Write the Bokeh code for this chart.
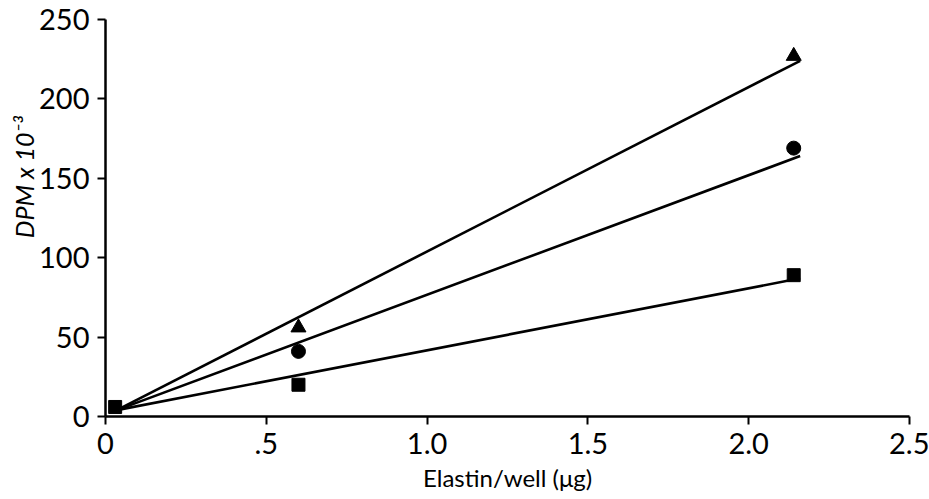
from bokeh.plotting import figure
from bokeh.models import Range1d, FixedTicker
from bokeh.embed import file_html
from bokeh.resources import INLINE

# Data
sq_x = [0.03, 0.6, 2.14]
sq_y = [6, 20, 89]
circ_x = [0.6, 2.14]
circ_y = [41, 169]
tri_x = [0.6, 2.14]
tri_y = [56, 227]

fit_x = [0.035, 2.16]
tri_fit = [4, 224]
circ_fit = [4, 164]
sq_fit = [4, 87]

x_ticks = [0, 0.5, 1.0, 1.5, 2.0, 2.5]
x_tick_labels = ["0", ".5", "1.0", "1.5", "2.0", "2.5"]
y_ticks = [0, 50, 100, 150, 200, 250]

FONT = "Lato"

p = figure(width=929, height=499, output_backend="svg", toolbar_location=None,
           x_range=Range1d(0, 2.5), y_range=Range1d(0, 250),
           min_border_left=105, min_border_right=20, min_border_top=19, min_border_bottom=83)
p.outline_line_color = None
p.grid.visible = False
p.background_fill_color = "white"
p.border_fill_color = "white"

for fy in (tri_fit, circ_fit, sq_fit):
    p.line(fit_x, fy, line_color="black", line_width=2.6)

p.scatter(sq_x, sq_y, marker="square", size=13, color="black")
p.scatter(circ_x, circ_y, marker="circle", size=14, color="black")
p.scatter(tri_x, tri_y, marker="triangle", size=15, color="black")

for ax in (p.xaxis[0], p.yaxis[0]):
    ax.axis_line_width = 2.5
    ax.axis_line_color = "black"
    ax.major_tick_line_width = 2
    ax.major_tick_line_color = "black"
    ax.major_tick_in = 0
    ax.major_tick_out = 8
    ax.minor_tick_line_color = None
    ax.major_label_text_font = FONT
    ax.major_label_text_font_size = "29px"
    ax.major_label_text_color = "black"
    ax.major_label_standoff = 8

p.xaxis.ticker = FixedTicker(ticks=x_ticks)
p.xaxis.major_label_overrides = {t: l for t, l in zip(x_ticks, x_tick_labels)}
p.yaxis.ticker = FixedTicker(ticks=y_ticks)

p.xaxis.axis_label = "Elastin/well (\u03bcg)"
p.xaxis.axis_label_text_font = FONT
p.xaxis.axis_label_text_font_style = "normal"
p.xaxis.axis_label_text_font_size = "24px"
p.xaxis.axis_label_text_color = "black"
p.xaxis.axis_label_standoff = 6

# leading no-break spaces shift the (rotated) label upward, as in the reference
p.yaxis.axis_label = "\u00a0" * 14 + "DPM x 10\u207b\u00b3"
p.yaxis.axis_label_text_font = FONT
p.yaxis.axis_label_text_font_style = "italic"
p.yaxis.axis_label_text_font_size = "25px"
p.yaxis.axis_label_text_color = "black"
p.yaxis.axis_label_standoff = -3

open("out.html", "w").write(file_html(p, INLINE))
